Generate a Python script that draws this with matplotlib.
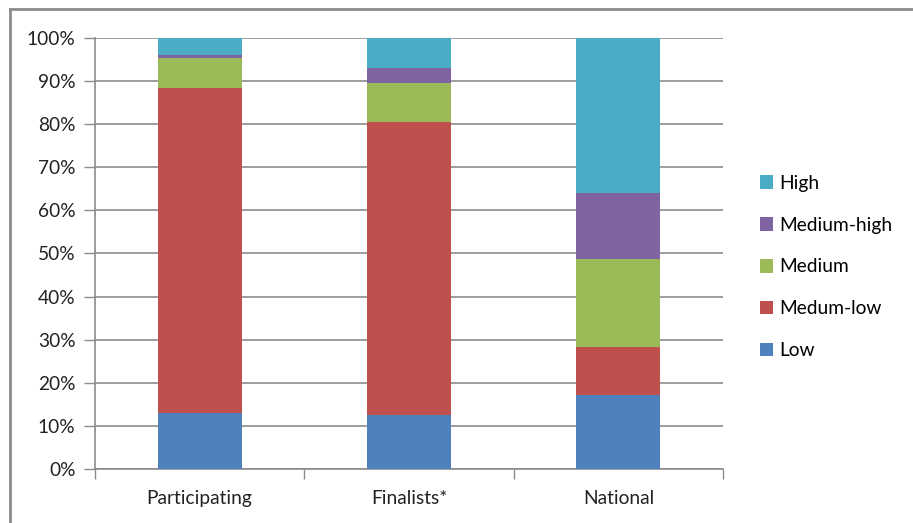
import numpy as np
import matplotlib
matplotlib.use('Agg')
import matplotlib.pyplot as plt
from matplotlib.ticker import FixedLocator

plt.rcParams['font.family'] = ['Lato', 'DejaVu Sans']

categories = ['Participating', 'Finalists*', 'National']
series = ['Low', 'Medum-low', 'Medium', 'Medium-high', 'High']
low = [12.9, 12.5, 17.1]
medium_low = [75.6, 68.0, 11.3]
medium = [6.85, 9.1, 20.4]
medium_high = [0.65, 3.4, 15.2]
high = [4.0, 7.0, 36.0]
colors = ['#4F81BD', '#C0504D', '#9BBB59', '#8064A2', '#4BACC6']

values = [low, medium_low, medium, medium_high, high]
fs = 13.8

fig = plt.figure(figsize=(9.13, 5.23), dpi=100)
ax = fig.add_axes([95 / 913, 1 - 469 / 523, 628 / 913, 431 / 523])

x = np.arange(len(categories))
bottom = np.zeros(len(categories))
for name, vals, c in zip(series, values, colors):
    ax.bar(x, vals, 0.4, bottom=bottom, color=c, label=name, zorder=3)
    bottom += np.array(vals)

ax.set_xlim(-0.5, 2.5)
ax.set_ylim(0, 100)
ax.set_yticks(np.arange(0, 101, 10))
ax.set_yticklabels(['%d%%' % v for v in range(0, 101, 10)])
ax.yaxis.grid(True, color='#8c8c8c', linewidth=1.2, zorder=0)
ax.set_xticks(x)
ax.set_xticklabels(categories)
ax.xaxis.set_minor_locator(FixedLocator([-0.5, 0.5, 1.5, 2.5]))
ax.tick_params(axis='x', which='major', length=0, pad=15, labelsize=fs, labelcolor='#222222')
ax.tick_params(axis='x', which='minor', length=7, color='#8c8c8c', width=1)
ax.tick_params(axis='y', length=8, color='#8c8c8c', width=1, pad=6, labelsize=fs, labelcolor='#222222')
for s in ['top', 'right']:
    ax.spines[s].set_visible(False)
for s in ['left', 'bottom']:
    ax.spines[s].set_color('#8c8c8c')
    ax.spines[s].set_linewidth(1.2)

handles, labels = ax.get_legend_handles_labels()
fig.legend(handles[::-1], labels[::-1], loc='center left',
           bbox_to_anchor=(752 / 913, 1 - 267 / 523), frameon=False,
           fontsize=fs, handlelength=0.7, handleheight=0.7,
           handletextpad=0.3, labelspacing=1.3, borderaxespad=0)

# chart border (top and left)
fig.add_artist(plt.Line2D([10 / 913, 10 / 913], [0, 1 - 9 / 523],
                          transform=fig.transFigure, color='#8c8c8c', linewidth=2))
fig.add_artist(plt.Line2D([10 / 913, 1], [1 - 9 / 523, 1 - 9 / 523],
                          transform=fig.transFigure, color='#8c8c8c', linewidth=2))

fig.savefig('out.png', dpi=100)
